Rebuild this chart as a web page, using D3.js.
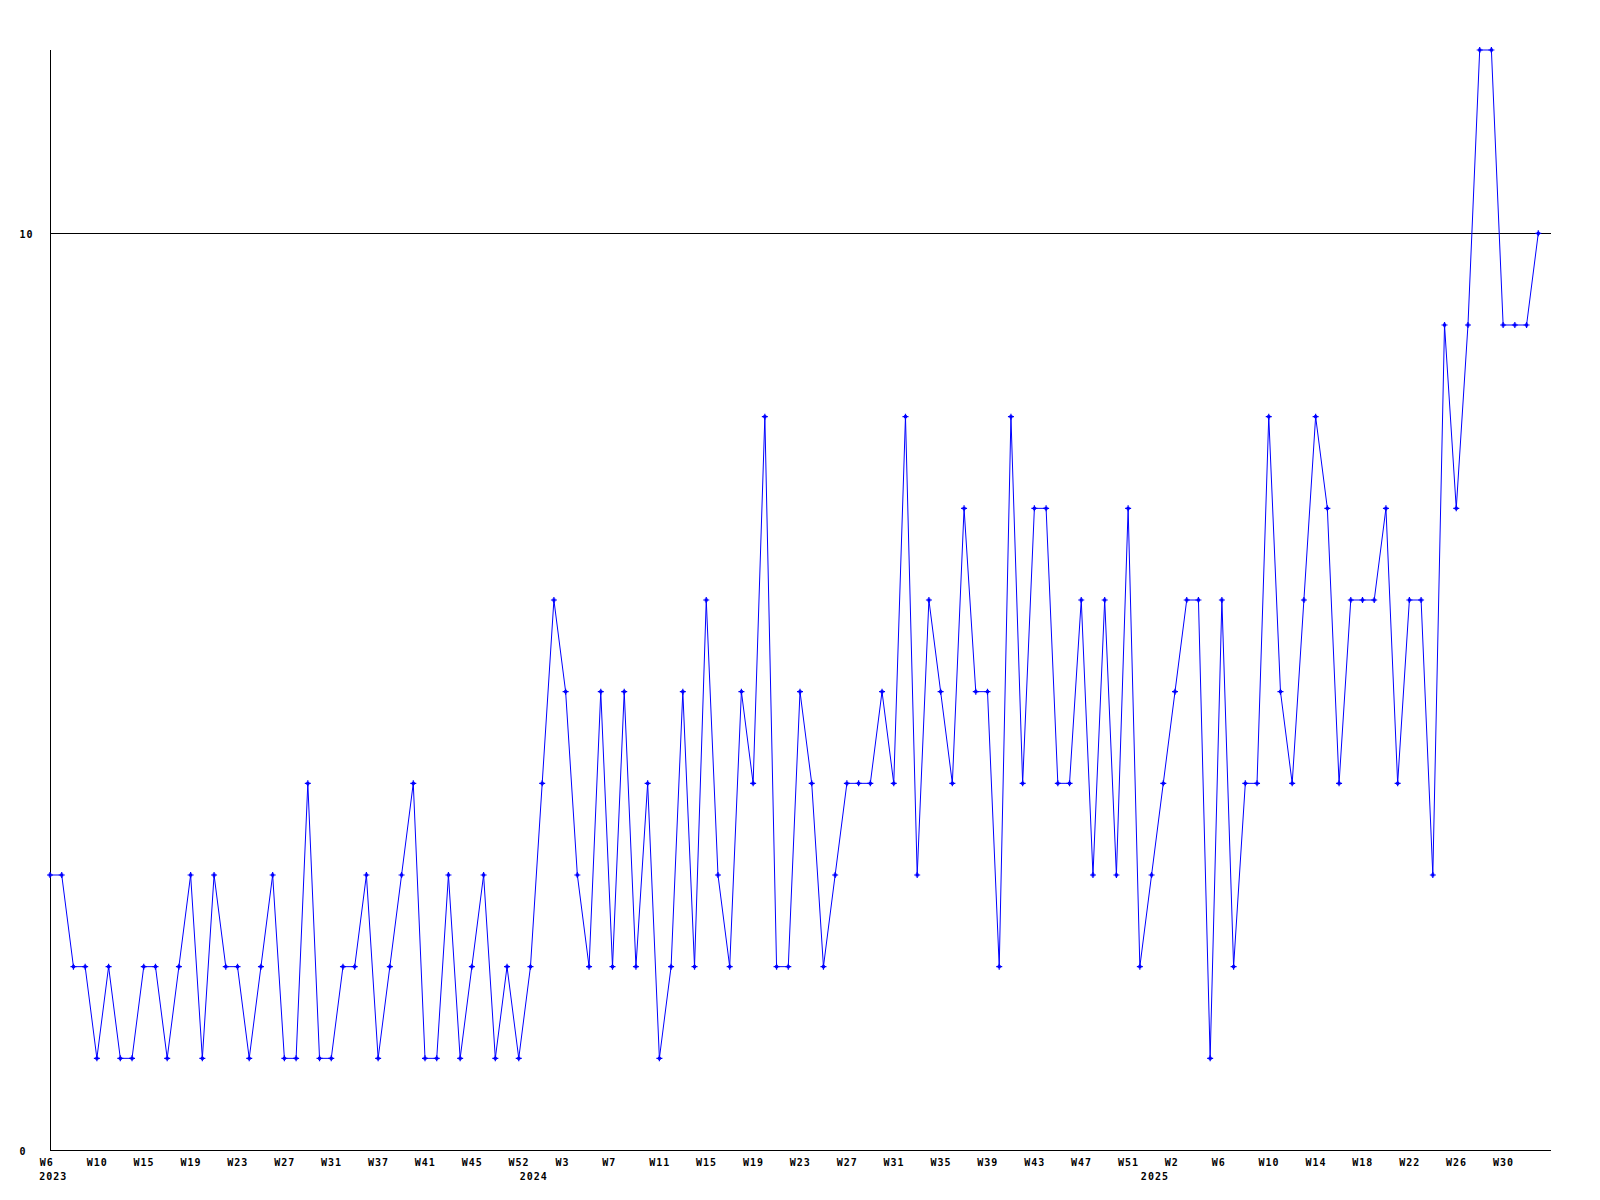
<!DOCTYPE html>
<html>
<head>
<meta charset="utf-8">
<script src="https://cdn.jsdelivr.net/npm/d3@7"></script>
<style>
  html, body { margin: 0; padding: 0; background: #fff; }
  svg text { font-family: "DejaVu Sans Mono", monospace; font-weight: bold; font-size: 10px; letter-spacing: 1px; fill: #000; }
</style>
</head>
<body>
<svg id="chart" width="1600" height="1200"></svg>
<script>
// Weekly values, 2023 W6 .. 2025 W33
const values = [
  3,3,2,2,1,2,1,1,2,2,
  1,2,3,1,3,2,2,1,2,3,
  1,1,4,1,1,2,2,3,1,2,
  3,4,1,1,3,1,2,3,1,2,
  1,2,4,6,5,3,2,5,2,5,
  2,4,1,2,5,2,6,3,2,5,
  4,8,2,2,5,4,2,3,4,4,
  4,5,4,8,3,6,5,4,7,5,
  5,2,8,4,7,7,4,4,6,3,
  6,3,7,2,3,4,5,6,6,1,
  6,2,4,4,8,5,4,6,8,7,
  4,6,6,6,7,4,6,6,3,9,
  7,9,12,12,9,9,9,10
];
// x-axis week labels (one every 4 points)
const tickLabels = ["W6","W10","W15","W19","W23","W27","W31","W37","W41","W45","W52",
  "W3","W7","W11","W15","W19","W23","W27","W31","W35","W39","W43","W47","W51",
  "W2","W6","W10","W14","W18","W22","W26","W30"];
const tickIndex = tickLabels.map((d, i) => i * 4);
const yearLabels = ["2023", "2024", "2025"];
const yearIndex = [0, 41, 94];
const yTickValues = [0, 10];

(function () {
const svg = d3.select("#chart");
const mLeft = 50, mRight = 1550, mTop = 50, mBottom = 1150;

const x = d3.scaleLinear().domain([0, values.length]).range([mLeft, mRight]);
const y = d3.scaleLinear().domain([0, 12]).range([mBottom, mTop]);

// reference line at 10
svg.append("line")
  .attr("x1", mLeft).attr("x2", mRight + 1)
  .attr("y1", Math.round(y(10)) + 0.5).attr("y2", Math.round(y(10)) + 0.5)
  .attr("stroke", "#000").attr("stroke-width", 1);

// axes lines
svg.append("line")
  .attr("x1", mLeft + 0.5).attr("x2", mLeft + 0.5)
  .attr("y1", mTop).attr("y2", mBottom + 1)
  .attr("stroke", "#000").attr("stroke-width", 1);
svg.append("line")
  .attr("x1", mLeft).attr("x2", mRight + 1)
  .attr("y1", mBottom + 0.5).attr("y2", mBottom + 0.5)
  .attr("stroke", "#000").attr("stroke-width", 1);

// y labels
const yAxis = d3.axisLeft(y).tickValues(yTickValues).tickSize(0).tickPadding(0);
const gy = svg.append("g").attr("transform", `translate(${mLeft},0)`).call(yAxis);
gy.select(".domain").remove();
gy.attr("font-family", null).attr("font-size", null);
gy.selectAll("text")
  .attr("text-anchor", "start")
  .attr("x", 19.5 - mLeft)
  .attr("dy", null)
  .attr("y", 4);

// x labels
const xAxis = d3.axisBottom(x).tickValues(tickIndex)
  .tickFormat((d, i) => tickLabels[i]).tickSize(0).tickPadding(0);
const gx = svg.append("g").attr("transform", `translate(0,${mBottom})`).call(xAxis);
gx.select(".domain").remove();
gx.attr("font-family", null).attr("font-size", null);
gx.selectAll("text")
  .attr("text-anchor", "start")
  .attr("x", -10.7)
  .attr("dy", null)
  .attr("y", 16);

// year labels
svg.append("g").selectAll("text").data(yearLabels).join("text")
  .attr("x", (d, i) => x(yearIndex[i]) - 10.7)
  .attr("y", mBottom + 30)
  .text(d => d);

// series line
const line = d3.line().x((d, i) => x(i)).y(d => y(d));
svg.append("path")
  .datum(values)
  .attr("fill", "none")
  .attr("stroke", "#0000ff")
  .attr("stroke-width", 1)
  .attr("d", line);

// markers
svg.append("g").selectAll("path").data(values).join("path")
  .attr("transform", (d, i) => `translate(${x(i)},${y(d)})`)
  .attr("d", "M-3,0H3M0,-3V3")
  .attr("stroke", "#0000ff")
  .attr("stroke-width", 1.2)
  .attr("fill", "none");
svg.append("g").selectAll("rect").data(values).join("rect")
  .attr("x", (d, i) => x(i) - 1.5)
  .attr("y", d => y(d) - 1.5)
  .attr("width", 3).attr("height", 3)
  .attr("fill", "#0000ff");
})();
</script>
</body>
</html>
